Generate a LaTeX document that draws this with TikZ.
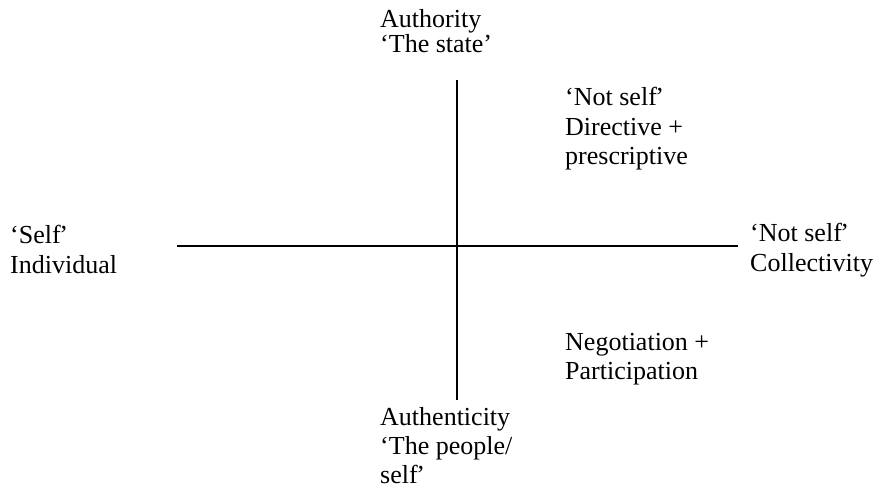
\documentclass[tikz,border=0pt]{standalone}
\usepackage{fontspec}
\setmainfont{Liberation Serif}
\usetikzlibrary{positioning}

\begin{document}
\begin{tikzpicture}[
  x=1pt, y=-1pt,
  label/.style={
    anchor=north west,
    inner sep=0pt,
    align=left,
    font=\fontsize{26}{29.5}\selectfont
  },
  axis/.style={line width=1.6pt}
]
  \useasboundingbox (0,0) rectangle (877,490);

  % axes
  \coordinate (top) at (457,80);
  \coordinate (bottom) at (457,400);
  \coordinate (left) at (177,246);
  \coordinate (right) at (738,246);
  \draw[axis] (top) -- (bottom);
  \draw[axis] (left) -- (right);

  % pole labels
  \node[label,font=\fontsize{26}{25.5}\selectfont] (authority) at (380,9)
    {Authority\\`The state'};
  \node[label,font=\fontsize{26}{29}\selectfont] (authenticity) at (380,407)
    {Authenticity\\`The people/\\self\kern-1.5pt'};
  \node[label] (self) at (10,225)
    {`Self\kern-1.5pt'\\Individual};
  \node[label] (notself) at (750,223)
    {`Not self\kern-1.5pt'\\Collectivity};

  % quadrant labels
  \node[label] (directive) at (565,87)
    {`Not self\kern-1.5pt'\\Directive +\\prescriptive};
  \node[label] (negotiation) at (565,333)
    {Negotiation +\\Participation};
\end{tikzpicture}
\end{document}
